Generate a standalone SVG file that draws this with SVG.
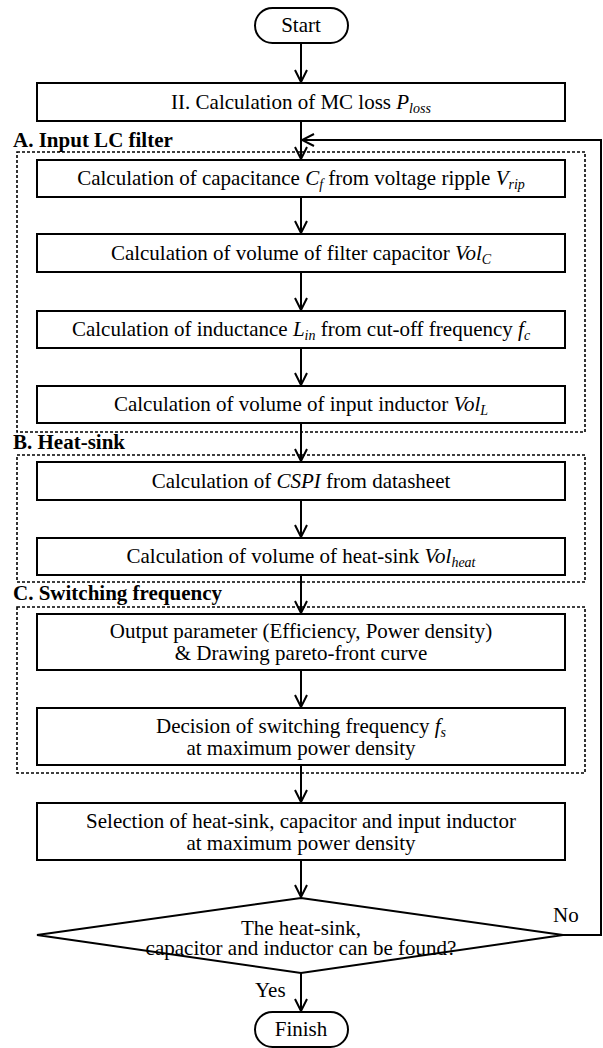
<svg xmlns="http://www.w3.org/2000/svg" width="603" height="1048" viewBox="0 0 603 1048" font-family="'Liberation Serif', 'DejaVu Serif', serif">
<style>
.b{fill:#fff;stroke:#000;stroke-width:2}
.d{fill:none;stroke:#000;stroke-width:1.6;stroke-dasharray:3 2}
.c{fill:none;stroke:#000;stroke-width:2}
text{font-family:'Liberation Serif', 'DejaVu Serif', serif;font-size:21px;fill:#000}
.t{text-anchor:middle}
.i{font-style:italic}
.s{font-style:italic;font-size:14px}
.h{font-weight:bold;font-size:21px}
</style>
<defs>
<marker id="ar" viewBox="-14 -8 16 16" refX="0" refY="0" markerWidth="16" markerHeight="16" markerUnits="userSpaceOnUse" orient="auto">
<path d="M-12,-6 L0,0 L-12,6" fill="none" stroke="#000" stroke-width="2"/>
</marker>
</defs>
<g id="groups">
<rect class="d" x="17" y="152" width="568" height="280"/>
<rect class="d" x="17" y="455" width="568" height="127"/>
<rect class="d" x="17" y="607" width="568" height="166"/>
<text class="h" x="13" y="147">A. Input LC filter</text>
<text class="h" x="13" y="449">B. Heat-sink</text>
<text class="h" x="13" y="600">C. Switching frequency</text>
</g>
<g id="connectors">
<line class="c" x1="301" y1="43" x2="301" y2="82" marker-end="url(#ar)"/>
<line class="c" x1="301" y1="121" x2="301" y2="159" marker-end="url(#ar)"/>
<line class="c" x1="301" y1="197" x2="301" y2="233" marker-end="url(#ar)"/>
<line class="c" x1="301" y1="272" x2="301" y2="310" marker-end="url(#ar)"/>
<line class="c" x1="301" y1="348" x2="301" y2="385" marker-end="url(#ar)"/>
<line class="c" x1="301" y1="423" x2="301" y2="461" marker-end="url(#ar)"/>
<line class="c" x1="301" y1="500" x2="301" y2="537" marker-end="url(#ar)"/>
<line class="c" x1="301" y1="575" x2="301" y2="613" marker-end="url(#ar)"/>
<line class="c" x1="301" y1="670" x2="301" y2="707" marker-end="url(#ar)"/>
<line class="c" x1="301" y1="765" x2="301" y2="802" marker-end="url(#ar)"/>
<line class="c" x1="301" y1="860" x2="301" y2="897" marker-end="url(#ar)"/>
<line class="c" x1="301" y1="973" x2="301" y2="1011" marker-end="url(#ar)"/>
<polyline class="c" points="563,935 601,935 601,140 302,140" marker-end="url(#ar)"/>
<text x="553" y="922">No</text>
<text x="255" y="997">Yes</text>
</g>
<g id="start">
<rect class="b" x="255" y="8" width="93" height="35" rx="17.5"/>
<text class="t" x="301" y="32">Start</text>
</g>
<g id="loss">
<rect class="b" x="37" y="83" width="528" height="38"/>
<text class="t" x="301" y="109">II. Calculation of MC loss <tspan class="i">P</tspan><tspan class="s" dy="4">loss</tspan></text>
</g>
<g id="cap">
<rect class="b" x="37" y="160" width="528" height="37"/>
<text class="t" x="301" y="185">Calculation of capacitance <tspan class="i">C</tspan><tspan class="s" dy="4">f</tspan><tspan dy="-4"> from voltage ripple </tspan><tspan class="i">V</tspan><tspan class="s" dy="4">rip</tspan></text>
</g>
<g id="volc">
<rect class="b" x="37" y="234" width="528" height="38"/>
<text class="t" x="301" y="260">Calculation of volume of filter capacitor <tspan class="i">Vol</tspan><tspan class="s" dy="4">C</tspan></text>
</g>
<g id="ind">
<rect class="b" x="37" y="311" width="528" height="37"/>
<text class="t" x="301" y="336">Calculation of inductance <tspan class="i">L</tspan><tspan class="s" dy="4">in</tspan><tspan dy="-4"> from cut-off frequency </tspan><tspan class="i">f</tspan><tspan class="s" dy="4">c</tspan></text>
</g>
<g id="voll">
<rect class="b" x="37" y="386" width="528" height="37"/>
<text class="t" x="301" y="411">Calculation of volume of input inductor <tspan class="i">Vol</tspan><tspan class="s" dy="4">L</tspan></text>
</g>
<g id="cspi">
<rect class="b" x="37" y="462" width="528" height="38"/>
<text class="t" x="301" y="488">Calculation of <tspan class="i">CSPI</tspan> from datasheet</text>
</g>
<g id="volh">
<rect class="b" x="37" y="538" width="528" height="37"/>
<text class="t" x="301" y="563">Calculation of volume of heat-sink <tspan class="i">Vol</tspan><tspan class="s" dy="4">heat</tspan></text>
</g>
<g id="output">
<rect class="b" x="37" y="614" width="528" height="56"/>
<text class="t" x="301" y="638">Output parameter (Efficiency, Power density)</text>
<text class="t" x="301" y="660">&amp; Drawing pareto-front curve</text>
</g>
<g id="decision">
<rect class="b" x="37" y="708" width="528" height="57"/>
<text class="t" x="301" y="733">Decision of switching frequency <tspan class="i">f</tspan><tspan class="s" dy="4">s</tspan></text>
<text class="t" x="301" y="755">at maximum power density</text>
</g>
<g id="selection">
<rect class="b" x="37" y="803" width="528" height="57"/>
<text class="t" x="301" y="828">Selection of heat-sink, capacitor and input inductor</text>
<text class="t" x="301" y="850">at maximum power density</text>
</g>
<g id="check">
<polygon class="b" points="301,898 563,935 301,973 37,935"/>
<text class="t" x="301" y="935">The heat-sink,</text>
<text class="t" x="301" y="955">capacitor and inductor can be found?</text>
</g>
<g id="finish">
<rect class="b" x="255" y="1012" width="93" height="35" rx="17.5"/>
<text class="t" x="301" y="1036">Finish</text>
</g>
</svg>
